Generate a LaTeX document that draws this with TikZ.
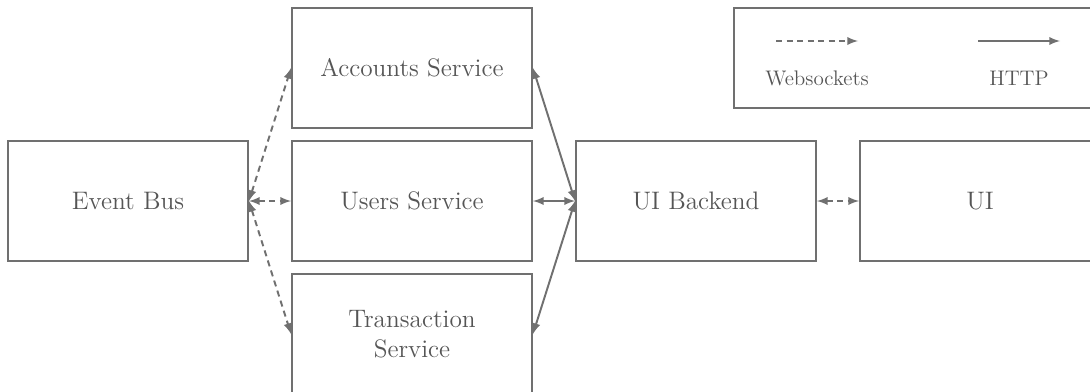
\documentclass[tikz,border=0pt]{standalone}
\usepackage{tikz}
\usetikzlibrary{arrows,shapes,calc,positioning}
\definecolor{boxline}{HTML}{707070}
\definecolor{boxtext}{HTML}{555555}

\begin{document}
\begin{tikzpicture}[x=0.02cm, y=-0.02cm, >=latex, line width=1.1pt]
   \useasboundingbox (0,0) rectangle (1090,392);
   \clip (0,0) rectangle (1090,392);
   \tikzset{service/.style={rectangle,draw=boxline,minimum width=4.8cm,minimum height=2.4cm,
      text=boxtext,align=center,font=\fontsize{14.4}{17}\selectfont},
      ws/.style={draw=boxline,dash pattern=on 3.5pt off 2.5pt},
      http/.style={draw=boxline}}
   \begin{scope}[every node/.style={service}]
    \node (bus) at (128,201) {Event Bus};
    \node (acc) at (412,68) {Accounts Service};
    \node (usr) at (412,201) {Users Service};
    \node (trx) at (412,334) {Transaction\\Service};
    \node (uib) at (696,201) {UI Backend};
    \node (ui) at (980,201) {UI};
    \node (leg) [minimum width=7.32cm, minimum height=2cm] at (917,58) {};
   \end{scope}
   % legend
   \coordinate (w1) at (776,41);
   \coordinate (w2) at (858,41);
   \coordinate (h1) at (978,41);
   \coordinate (h2) at (1060,41);
   \draw[->,ws] (w1) -- (w2);
   \draw[->,http] (h1) -- (h2);
   \node[text=boxtext,font=\fontsize{12}{14}\selectfont] (wslbl) at (817,78) {Websockets};
   \node[text=boxtext,font=\fontsize{12}{14}\selectfont] (httplbl) at (1019,78) {HTTP};
   % connections
   \begin{scope}[<->]
    \draw[ws] (bus.east) -- (acc.west);
    \draw[ws] (bus.east) -- (usr.west);
    \draw[ws] (bus.east) -- (trx.west);
    \draw[http] (uib.west) -- (acc.east);
    \draw[http] (uib.west) -- (usr.east);
    \draw[http] (uib.west) -- (trx.east);
    \draw[ws] (uib.east) -- (ui.west);
   \end{scope}
\end{tikzpicture}
\end{document}
